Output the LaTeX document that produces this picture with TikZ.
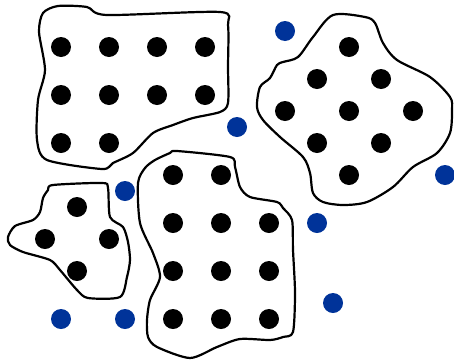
\documentclass[tikz,border=0pt]{standalone}
\begin{document}
\begin{tikzpicture}[x=1pt,y=-1pt,
  bdot/.style={circle,fill=black,inner sep=0pt,minimum size=20pt},
  udot/.style={circle,fill=dotblue,inner sep=0pt,minimum size=20pt},
  blob/.style={draw=black,line width=2.2pt,line join=round}]
\definecolor{dotblue}{RGB}{0,51,153}
\useasboundingbox (0,0) rectangle (454,362);
% outlines
\draw[blob] plot[smooth cycle,tension=0.45] coordinates {(43,13)(58,6)(87,7)(107,15)(220,12)(228,25)(228,67)(228,103)(220,112)(193,118)(173,125)(153,133)(133,153)(113,163)(102,169)(47,160)(37,140)(38,100)(45,70)(39,32)};
\draw[blob] plot[smooth cycle,tension=0.5] coordinates {(333,15)(365,17)(375,23)(383,43)(397,60)(430,77)(450,97)(452,110)(450,133)(437,153)(413,167)(393,187)(367,202)(343,205)(323,202)(313,193)(310,173)(303,157)(280,137)(263,120)(257,107)(260,87)(270,78)(277,65)(283,62)(298,57)(313,37)};
\draw[blob] plot[smooth cycle,tension=0.45] coordinates {(53,185)(102,183)(108,188)(110,217)(123,227)(128,242)(130,260)(127,277)(120,297)(88,298)(77,290)(60,270)(50,260)(23,252)(10,245)(8,237)(15,226)(33,220)(40,212)(43,198)(48,190)};
\draw[blob] plot[smooth cycle,tension=0.45] coordinates {(177,151)(230,157)(235,167)(240,187)(250,197)(277,202)(283,208)(292,220)(293,250)(295,293)(293,332)(283,337)(270,340)(240,339)(217,347)(190,358)(157,347)(148,337)(147,320)(150,300)(160,277)(153,253)(140,223)(138,183)(145,168)(155,160)(170,153)};
% cluster 1
\node[bdot] (a1) at (61,47) {};
\node[bdot] (a2) at (109,47) {};
\node[bdot] (a3) at (157,47) {};
\node[bdot] (a4) at (205,47) {};
\node[bdot] (a5) at (61,95) {};
\node[bdot] (a6) at (109,95) {};
\node[bdot] (a7) at (157,95) {};
\node[bdot] (a8) at (205,95) {};
\node[bdot] (a9) at (61,143) {};
\node[bdot] (a10) at (109,143) {};
% cluster 2
\node[bdot] (b1) at (349,47) {};
\node[bdot] (b2) at (317,79) {};
\node[bdot] (b3) at (381,79) {};
\node[bdot] (b4) at (285,111) {};
\node[bdot] (b5) at (349,111) {};
\node[bdot] (b6) at (413,111) {};
\node[bdot] (b7) at (317,143) {};
\node[bdot] (b8) at (381,143) {};
\node[bdot] (b9) at (349,175) {};
% cluster 3
\node[bdot] (c1) at (77,207) {};
\node[bdot] (c2) at (45,239) {};
\node[bdot] (c3) at (109,239) {};
\node[bdot] (c4) at (77,271) {};
% cluster 4
\node[bdot] (d1) at (173,175) {};
\node[bdot] (d2) at (221,175) {};
\node[bdot] (d3) at (173,223) {};
\node[bdot] (d4) at (221,223) {};
\node[bdot] (d5) at (269,223) {};
\node[bdot] (d6) at (173,271) {};
\node[bdot] (d7) at (221,271) {};
\node[bdot] (d8) at (269,271) {};
\node[bdot] (d9) at (173,319) {};
\node[bdot] (d10) at (221,319) {};
\node[bdot] (d11) at (269,319) {};
% noise points
\node[udot] (n1) at (285,31) {};
\node[udot] (n2) at (237,127) {};
\node[udot] (n3) at (445,175) {};
\node[udot] (n4) at (125,191) {};
\node[udot] (n5) at (317,223) {};
\node[udot] (n6) at (333,303) {};
\node[udot] (n7) at (61,319) {};
\node[udot] (n8) at (125,319) {};
\end{tikzpicture}
\end{document}
